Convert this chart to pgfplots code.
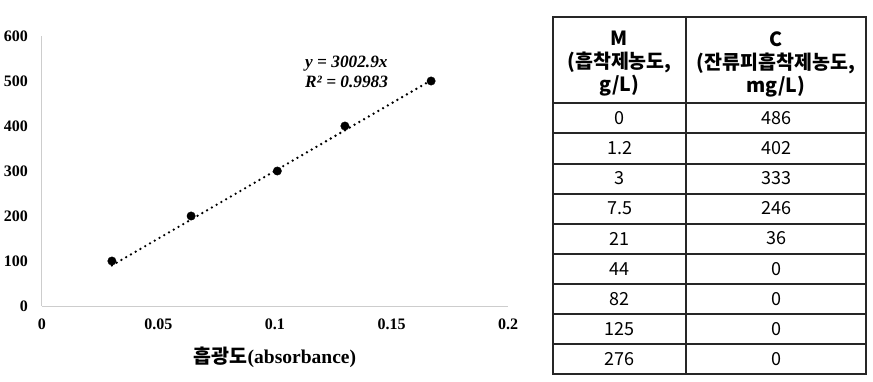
\documentclass[border=0pt]{standalone}
\usepackage{fontspec}
\usepackage{pgfplots}
\pgfplotsset{compat=1.18}
\setmainfont{Liberation Serif}
\newfontfamily\kr{Noto Sans CJK KR}
\definecolor{axgray}{RGB}{205,205,205}
\begin{document}
\begin{tikzpicture}
\begin{axis}[
  at={(0,0)}, anchor=south west,
  scale only axis, width=466pt, height=270pt,
  xmin=0, xmax=0.2, ymin=0, ymax=600,
  axis x line*=bottom, axis y line*=left,
  x axis line style={-}, y axis line style={-},
  axis line style={draw=axgray, line width=1pt},
  major tick length=0pt,
  xtick={0,0.05,0.1,0.15,0.2},
  xticklabels={0,0.05,0.1,0.15,0.2},
  ytick={0,100,200,300,400,500,600},
  yticklabels={0,100,200,300,400,500,600},
  tick label style={font=\fontsize{16}{16}\selectfont\bfseries, inner sep=0pt},
  xticklabel style={anchor=center, yshift=-18pt},
  yticklabel style={anchor=east, xshift=-14pt},
  xlabel={{\kr\bfseries 흡광도}\textbf{(absorbance)}},
  xlabel style={at={(axis description cs:0.5,0)}, anchor=center, yshift=-51pt, font=\fontsize{19.5}{19.5}\selectfont, inner sep=0pt},
  clip=false,
]
\addplot[black, line width=2.6pt, line cap=round, dash pattern=on 0pt off 5.5pt] coordinates {(0.030,90.1) (0.168,504.5)};
\addplot[only marks, mark=*, mark size=4.2pt, black] coordinates {
(0.030,100) (0.064,200) (0.101,300) (0.130,400) (0.167,500)};
\end{axis}
\begin{scope}[x=1pt,y=1pt,shift={(-42pt,-75pt)}]
\path[use as bounding box] (0,0) rectangle (873,381);
\node[anchor=west, inner sep=0pt, font=\fontsize{17.3}{17}\selectfont\bfseries\itshape] at (305,317) {y = 3002.9x};
\node[anchor=west, inner sep=0pt, font=\fontsize{17.3}{17}\selectfont\bfseries\itshape] at (305,299) {R² = 0.9983};
\begin{scope}[line width=1.2pt, draw=black!85]
\draw (553,364) rectangle (866,7);
\draw (686,364) -- (686,7);
\foreach \yy in {278,248,217,187,157,127,97,67,37} \draw (553,\yy) -- (866,\yy);
\end{scope}
\begin{scope}[every node/.style={font=\kr\fontsize{18}{23.5}\selectfont, inner sep=0pt, align=center}]
\node[font=\kr\bfseries\fontsize{19.5}{23}\selectfont] at (619.5,317) {M\\(흡착제농도,\\g/L)};
\node[font=\kr\bfseries\fontsize{19.5}{23}\selectfont] at (776,317) {C\\(잔류피흡착제농도,\\mg/L)};
\foreach \a/\b [count=\i] in {0/486,1.2/402,3/333,7.5/246,21/36,44/0,82/0,125/0,276/0} {
  \pgfmathsetmacro{\yc}{278-30.1*\i+15}
  \node at (619.5,\yc) {\a};
  \node at (776,\yc) {\b};
}
\end{scope}
\end{scope}
\end{tikzpicture}
\end{document}
